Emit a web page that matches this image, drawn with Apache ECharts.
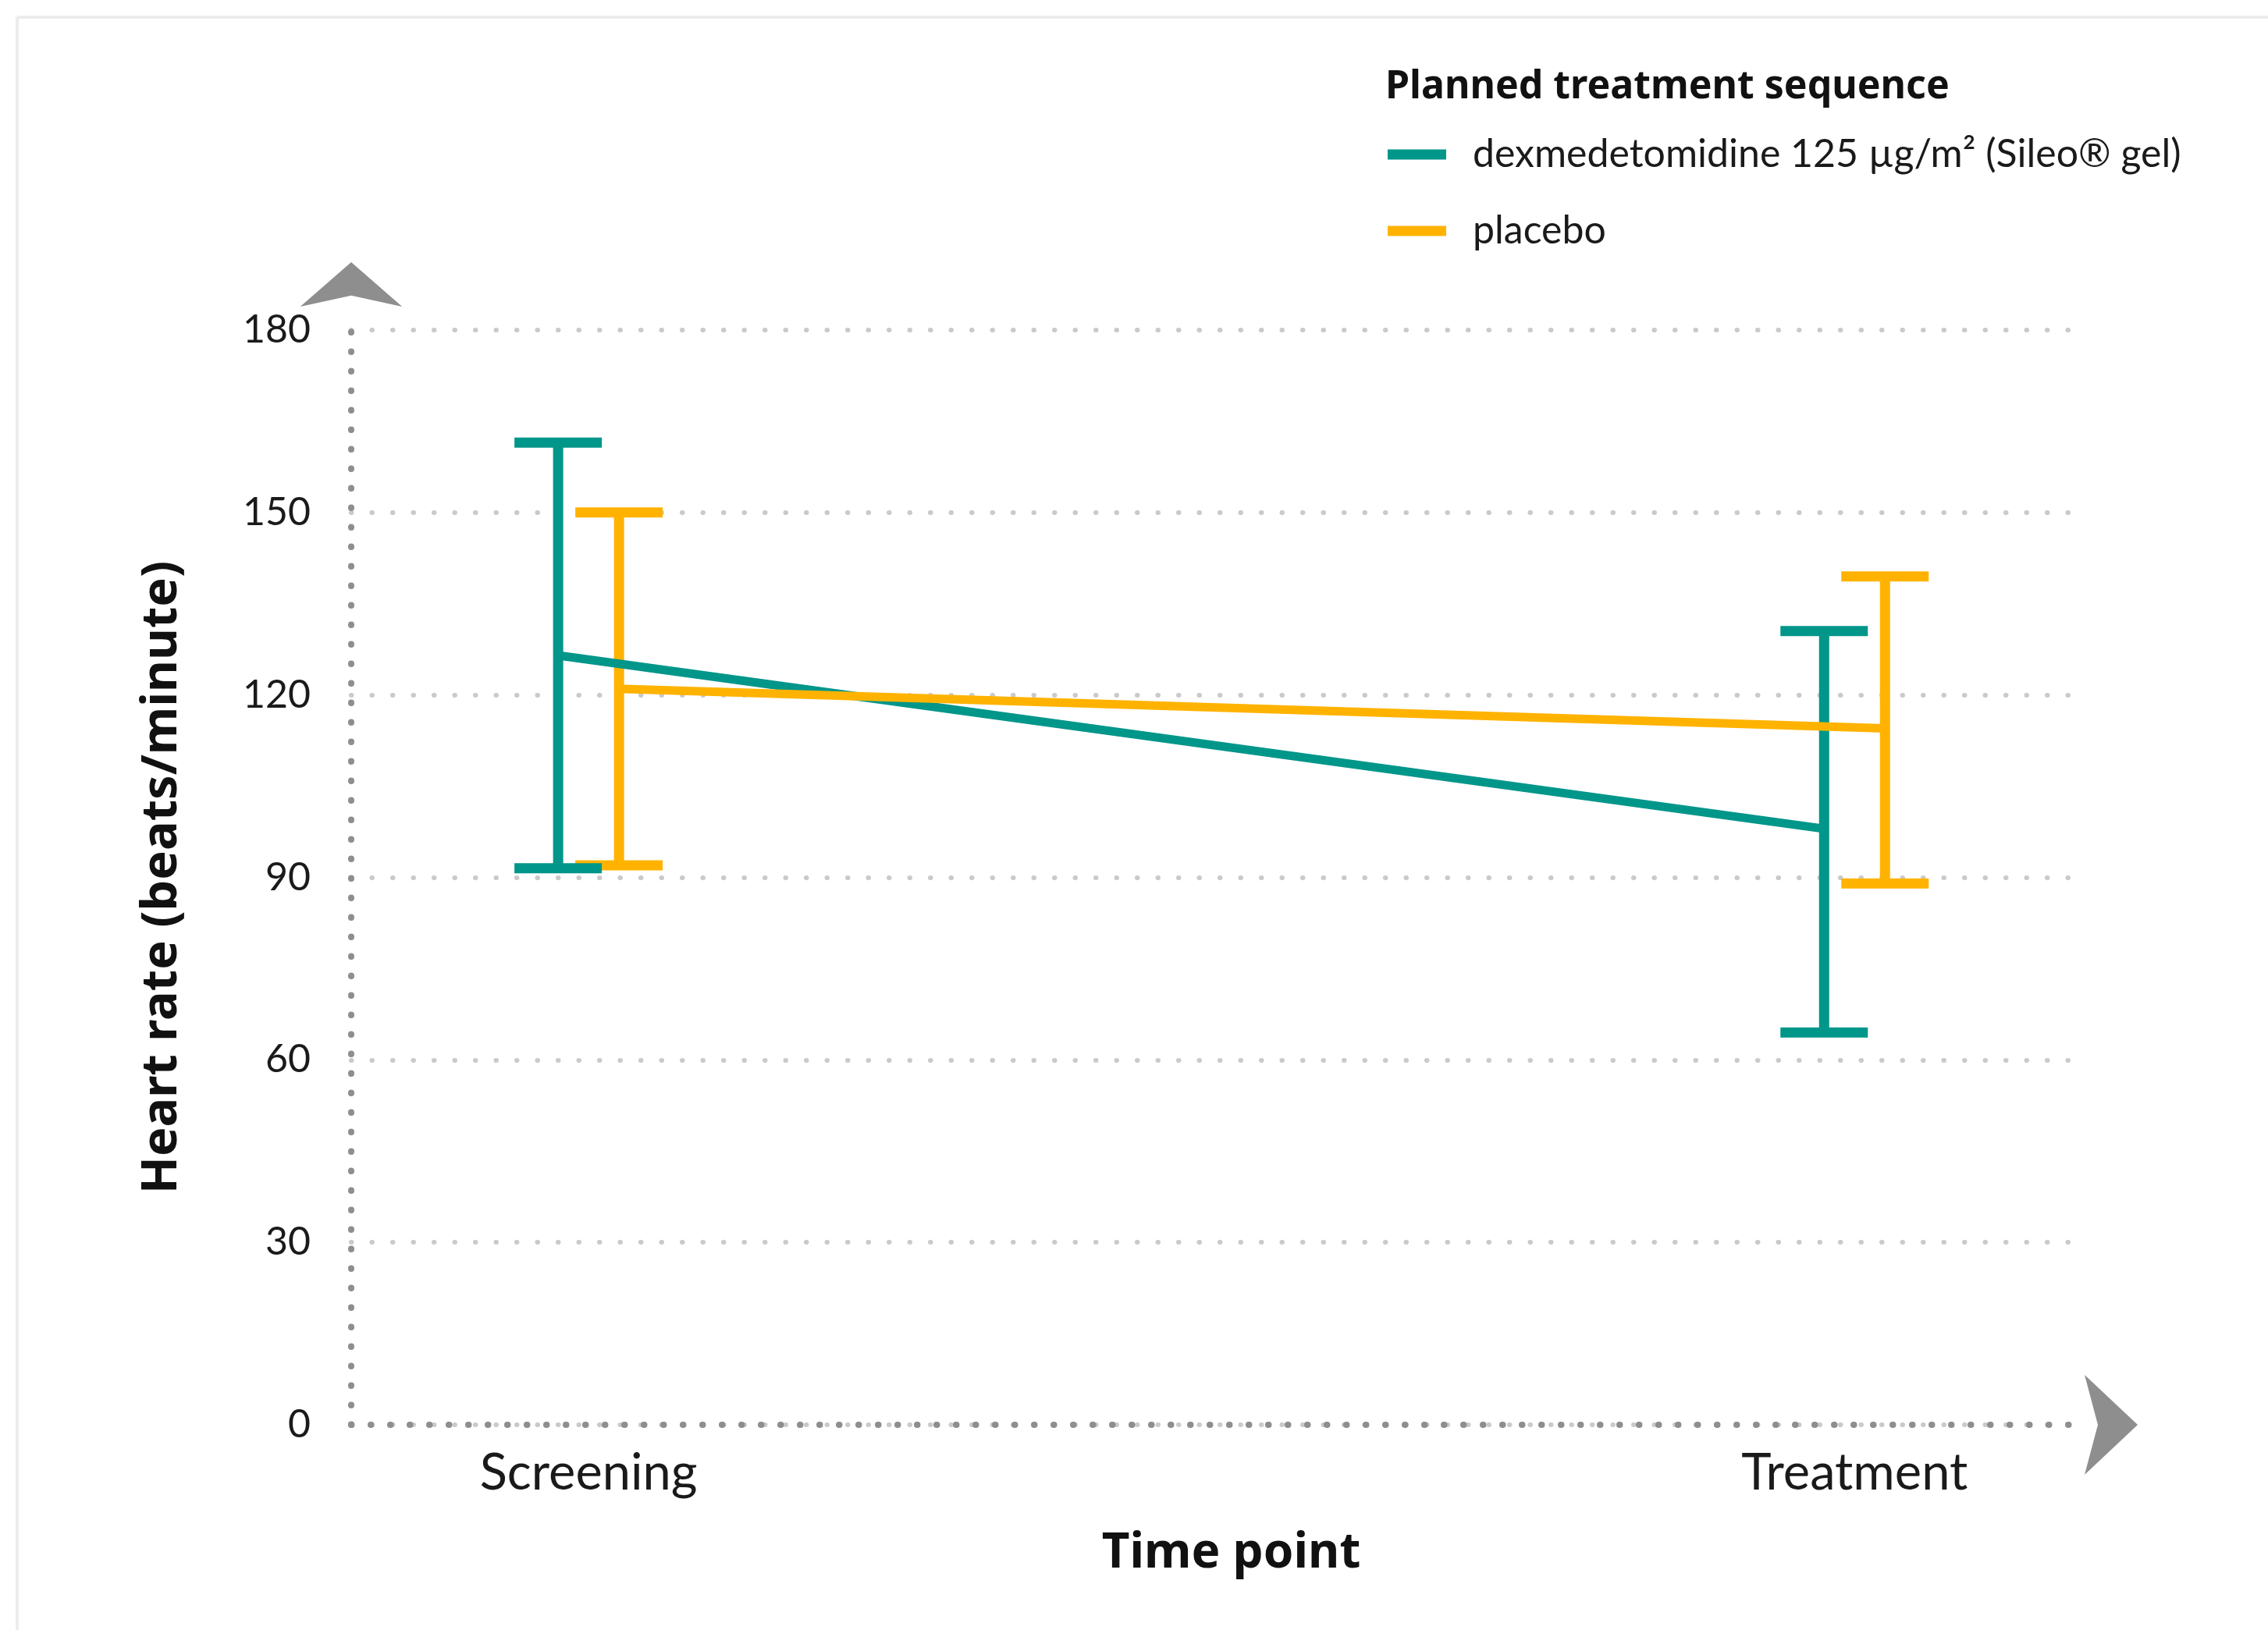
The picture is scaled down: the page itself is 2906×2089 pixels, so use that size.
<!DOCTYPE html>
<html>
<head>
<meta charset="utf-8">
<script src="https://cdn.jsdelivr.net/npm/echarts@6/dist/echarts.min.js"></script>
<style>
  html, body { margin: 0; padding: 0; background: #ffffff; }
  #chart { width: 2906px; height: 2089px; }
</style>
</head>
<body>
<div id="chart"></div>
<script>
// Heart rate (mean with range bars) at screening and during treatment
const timePoints = ['Screening', 'Treatment'];
const yTicks = [0, 30, 60, 90, 120, 150, 180];

const dexMean = [126.5, 98];
const dexLow = [91.5, 64.5];
const dexHigh = [161.5, 130.5];

const placeboMean = [121, 114.5];
const placeboLow = [92, 89];
const placeboHigh = [150, 139.5];

const seriesNames = ['dexmedetomidine 125 µg/m² (Sileo® gel)', 'placebo'];
const legendTitle = 'Planned treatment sequence';
const xTitle = 'Time point';
const yTitle = 'Heart rate (beats/minute)';

const GREEN = '#00968a';
const AMBER = '#ffb300';
const FONT = 'Lato';
const BOLD_FONT = 'Noto Sans';
const TEXT = '#1a1a1a';

// vertical bar with caps, shifted sideways (in pixels) from the category position
function rangeBars(name, color, low, high, shift) {
  return {
    type: 'custom',
    name: name,
    itemStyle: { color: color },
    data: timePoints.map((t, i) => [i, low[i], high[i]]),
    encode: { x: 0, y: [1, 2] },
    renderItem: function (params, api) {
      const lo = api.coord([api.value(0), api.value(1)]);
      const hi = api.coord([api.value(0), api.value(2)]);
      const x = lo[0] + shift;
      const half = 56;
      const style = { stroke: color, lineWidth: 13, fill: null };
      return {
        type: 'group',
        children: [
          { type: 'line', shape: { x1: x, y1: lo[1], x2: x, y2: hi[1] }, style: style },
          { type: 'line', shape: { x1: x - half, y1: lo[1], x2: x + half, y2: lo[1] }, style: style },
          { type: 'line', shape: { x1: x - half, y1: hi[1], x2: x + half, y2: hi[1] }, style: style }
        ]
      };
    }
  };
}

// line joining the means, each item draws the segment from the previous time point
function meanLine(name, color, mean, shift) {
  return {
    type: 'custom',
    name: name,
    itemStyle: { color: color },
    data: timePoints.map((t, i) => [i, mean[i]]),
    encode: { x: 0, y: 1 },
    renderItem: function (params, api) {
      const i = params.dataIndex;
      if (i === 0) return null;
      const a = api.coord([i - 1, mean[i - 1]]);
      const b = api.coord([api.value(0), api.value(1)]);
      return {
        type: 'line',
        shape: { x1: a[0] + shift, y1: a[1], x2: b[0] + shift, y2: b[1] },
        style: { stroke: color, lineWidth: 11, fill: null }
      };
    }
  };
}

const axisDots = { color: '#8e8e8e', width: 8, type: [0.5, 24.5], cap: 'round' };

const option = {
  backgroundColor: '#ffffff',
  animation: false,
  title: {
    text: legendTitle,
    left: 1775,
    top: 81,
    padding: 0,
    textStyle: { fontFamily: BOLD_FONT, fontWeight: 'bold', fontSize: 50, lineHeight: 62, color: '#111111' }
  },
  legend: {
    data: seriesNames,
    orient: 'vertical',
    left: 1778,
    top: 168,
    padding: 0,
    icon: 'rect',
    itemWidth: 75,
    itemHeight: 13,
    itemGap: 38,
    selectedMode: false,
    textStyle: { fontFamily: FONT, fontSize: 50, lineHeight: 60, color: TEXT, padding: [0, 0, 0, 29] }
  },
  grid: {
    left: 450,
    right: 241,
    top: 423,
    bottom: 263,
    containLabel: false,
    outerBoundsMode: 'none'
  },
  xAxis: {
    type: 'value',
    min: -0.1875,
    max: 1.178,
    name: xTitle,
    nameLocation: 'middle',
    nameGap: 134,
    nameTextStyle: { fontFamily: BOLD_FONT, fontWeight: 'bold', fontSize: 62, color: '#111111', padding: [0, 0, 0, 40] },
    axisLine: {
      show: true,
      onZero: false,
      symbol: ['none', 'arrow'],
      symbolSize: [96, 68],
      symbolOffset: [0, 74],
      lineStyle: axisDots
    },
    axisTick: { show: false },
    splitLine: { show: false },
    axisLabel: {
      customValues: timePoints.map((t, i) => i),
      formatter: function (v) { return timePoints[Math.round(v)]; },
      fontFamily: FONT,
      fontSize: 65,
      color: TEXT,
      margin: 30
    }
  },
  yAxis: {
    type: 'value',
    min: yTicks[0],
    max: yTicks[yTicks.length - 1],
    interval: yTicks[1] - yTicks[0],
    name: yTitle,
    nameLocation: 'middle',
    nameRotate: 90,
    nameGap: 210,
    nameTextStyle: { fontFamily: BOLD_FONT, fontWeight: 'bold', fontSize: 63, color: '#111111' },
    axisLine: {
      show: true,
      onZero: false,
      symbol: ['none', 'arrow'],
      symbolSize: [98, 57],
      symbolOffset: [0, 87],
      lineStyle: axisDots
    },
    axisTick: { show: false },
    axisLabel: { fontFamily: FONT, fontSize: 50, color: TEXT, margin: 52 },
    splitLine: {
      show: true,
      lineStyle: { color: '#cacaca', width: 6, type: [0.5, 26], cap: 'round' }
    }
  },
  graphic: [
    { type: 'line', shape: { x1: 22, y1: 22, x2: 2906, y2: 22 }, style: { stroke: '#ececec', lineWidth: 4 }, silent: true },
    { type: 'line', shape: { x1: 22, y1: 22, x2: 22, y2: 2089 }, style: { stroke: '#ececec', lineWidth: 4 }, silent: true }
  ],
  series: [
    rangeBars(seriesNames[1], AMBER, placeboLow, placeboHigh, 39),
    rangeBars(seriesNames[0], GREEN, dexLow, dexHigh, -39),
    meanLine(seriesNames[0], GREEN, dexMean, -39),
    meanLine(seriesNames[1], AMBER, placeboMean, 39)
  ]
};

const chart = echarts.init(document.getElementById('chart'), null, { renderer: 'canvas' });
chart.setOption(option);
</script>
</body>
</html>
